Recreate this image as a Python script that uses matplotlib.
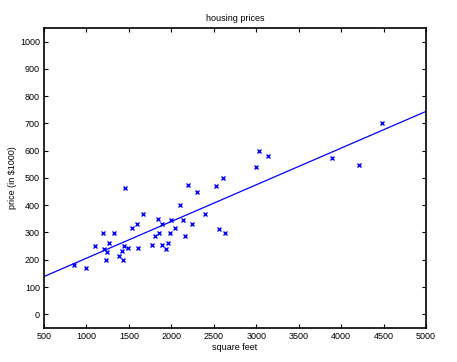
import numpy as np
import matplotlib
matplotlib.use("Agg")
import matplotlib.pyplot as plt

# house size (square feet) and price (in $1000)
sqft = [2104, 1600, 2400, 1416, 3000, 1985, 1534, 1427, 1380, 1494, 1940, 2000,
        1890, 4478, 1268, 2300, 1320, 1236, 2609, 3031, 1767, 1888, 1604, 1962,
        3890, 1100, 1458, 2526, 2200, 2637, 1839, 1000, 2040, 3137, 1811, 1437,
        1239, 2132, 4215, 2162, 1664, 2238, 2567, 1200, 852, 1852, 1203]
price = [399.9, 329.9, 369.0, 232.0, 539.9, 299.9, 314.9, 199.0, 212.0, 242.5,
         240.0, 347.0, 330.0, 699.9, 259.9, 449.9, 299.9, 199.9, 500.0, 599.0,
         252.9, 255.0, 242.9, 259.9, 573.9, 249.9, 464.5, 469.0, 475.0, 299.9,
         349.9, 169.9, 314.9, 579.9, 285.9, 249.9, 229.9, 345.0, 549.0, 287.0,
         368.5, 329.9, 314.0, 299.0, 179.9, 299.9, 239.5]

xticks = list(range(500, 5001, 500))
yticks = list(range(0, 1001, 100))

plt.rcParams['font.family'] = ['Liberation Sans', 'DejaVu Sans']

fig = plt.figure(figsize=(4.57, 3.62), dpi=100)
ax = fig.add_axes([0.0963, 0.094, 0.836, 0.829])

# data points
ax.plot(sqft, price, 'x', color='blue', markersize=3.5, markeredgewidth=1)

# least squares line
slope, intercept = np.polyfit(sqft, price, 1)
lx = np.array([500, 5000])
ax.plot(lx, intercept + slope * lx, '-', color='blue', linewidth=0.9)

ax.set_xlim(500, 5000)
ax.set_ylim(-50, 1050)
ax.set_xticks(xticks)
ax.set_yticks(yticks)
ax.tick_params(direction='in', length=3, width=0.8, labelsize=6.5,
               top=True, right=True, pad=3)
for s in ax.spines.values():
    s.set_linewidth(1.2)

ax.set_title('housing prices', fontsize=6.5, pad=5)
ax.set_xlabel('square feet', fontsize=6.5, labelpad=1)
ax.set_ylabel('price (in \\$1000)', fontsize=6.5, labelpad=2)

fig.savefig('out.png', dpi=100)
